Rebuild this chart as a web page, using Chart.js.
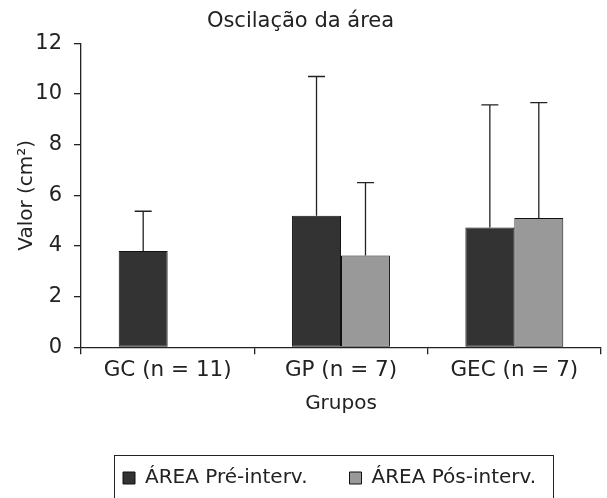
<!DOCTYPE html>
<html>
<head>
<meta charset="utf-8">
<script src="https://cdn.jsdelivr.net/npm/chart.js"></script>
<style>
    body { margin: 0; background: #fff; }
    #wrap { width: 607px; height: 498px; }
</style>
</head>
<body>
<div id="wrap"><canvas id="chart" width="607" height="498"></canvas></div>
<script>
"use strict";

// Chart data
const categories = ["GC (n = 11)", "GP (n = 7)", "GEC (n = 7)"];
const seriesNames = ["ÁREA Pré-interv.", "ÁREA Pós-interv."];
const preValues = [3.80, 5.19, 4.73];
const postValues = [null, 3.62, 5.10];
const preErrors = [1.57, 5.50, 4.84];
const postErrors = [null, 2.88, 4.56];

const fontFamily = "'DejaVu Sans', sans-serif";
const inkColor = "#222";

// Draws the upper error whiskers on top of each bar
const errorBars = {
    id: "errorBars",
    afterDatasetsDraw(chart) {
        const { ctx, scales: { y } } = chart;
        const errors = [preErrors, postErrors];
        ctx.save();
        ctx.strokeStyle = inkColor;
        ctx.lineWidth = 1.3;
        chart.data.datasets.forEach((ds, i) => {
            chart.getDatasetMeta(i).data.forEach((bar, j) => {
                const value = ds.data[j];
                const err = errors[i][j];
                if (value == null || err == null) return;
                const top = y.getPixelForValue(value + err);
                ctx.beginPath();
                ctx.moveTo(bar.x, bar.y);
                ctx.lineTo(bar.x, top);
                ctx.moveTo(bar.x - 8.5, top);
                ctx.lineTo(bar.x + 8.5, top);
                ctx.stroke();
            });
        });
        ctx.restore();
    }
};

// Frame round the legend items
const legendFrame = {
    id: "legendFrame",
    afterDraw(chart) {
        const boxes = chart.legend.legendHitBoxes;
        if (!boxes || !boxes.length) return;
        const { ctx } = chart;
        const last = boxes[boxes.length - 1];
        const left = boxes[0].left - 9;
        const right = last.left + last.width + 17;
        const top = boxes[0].top - 13;
        const bottom = chart.height - 0.5;
        ctx.save();
        ctx.strokeStyle = inkColor;
        ctx.lineWidth = 1;
        ctx.strokeRect(Math.round(left) + 0.5, Math.round(top) + 0.5, Math.round(right - left), Math.round(bottom - top));
        ctx.restore();
    }
};

new Chart(document.getElementById("chart"), {
    type: "bar",
    data: {
        labels: categories,
        datasets: [{
            label: seriesNames[0],
            data: preValues,
            backgroundColor: "#333333",
            borderColor: "#111111",
            borderWidth: 1,
            borderSkipped: false
        }, {
            label: seriesNames[1],
            data: postValues,
            backgroundColor: "#999999",
            borderColor: "#111111",
            borderWidth: 1,
            borderSkipped: false
        }]
    },
    options: {
        responsive: false,
        animation: false,
        layout: { padding: { left: 0, right: 6, top: 0, bottom: 0 } },
        datasets: {
            bar: { categoryPercentage: 0.565, barPercentage: 1 }
        },
        plugins: {
            title: {
                display: true,
                text: "Oscilação da área",
                color: inkColor,
                font: { family: fontFamily, size: 21, weight: "normal" },
                padding: { top: 9.4, bottom: 8.7 }
            },
            legend: {
                position: "bottom",
                align: "start",
                fullSize: false,
                labels: {
                    color: inkColor,
                    font: { family: fontFamily, size: 20 },
                    boxWidth: 12,
                    boxHeight: 12,
                    padding: 42
                }
            },
            tooltip: { enabled: false }
        },
        scales: {
            x: {
                grid: {
                    display: true,
                    drawOnChartArea: false,
                    drawTicks: true,
                    tickLength: 7,
                    color: inkColor,
                    lineWidth: 1.3
                },
                border: { color: inkColor, width: 1.3 },
                ticks: {
                    color: inkColor,
                    font: { family: fontFamily, size: 21.5 },
                    padding: 3,
                    maxRotation: 0
                },
                title: {
                    display: true,
                    text: "Grupos",
                    color: inkColor,
                    font: { family: fontFamily, size: 20 },
                    padding: { top: 0, bottom: 10 }
                },
                afterFit(scale) { scale.height = 78.7; }
            },
            y: {
                min: 0,
                max: 12,
                grid: {
                    display: true,
                    drawOnChartArea: false,
                    drawTicks: true,
                    tickLength: 7,
                    color: inkColor,
                    lineWidth: 1.3
                },
                border: { color: inkColor, width: 1.3 },
                ticks: {
                    stepSize: 2,
                    color: inkColor,
                    font: { family: fontFamily, size: 21 },
                    padding: 12
                },
                title: {
                    display: true,
                    text: "Valor (cm²)",
                    color: inkColor,
                    font: { family: fontFamily, size: 20 },
                    padding: { top: 15, bottom: 0 }
                },
                afterFit(scale) { scale.width = 81; }
            }
        }
    },
    plugins: [errorBars, legendFrame]
});
</script>
</body>
</html>
